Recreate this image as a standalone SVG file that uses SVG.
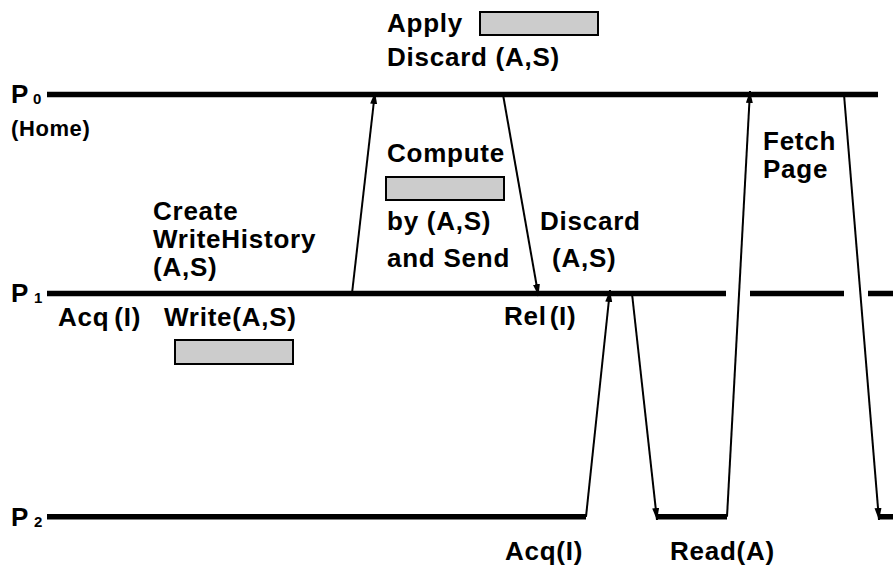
<svg xmlns="http://www.w3.org/2000/svg" width="893" height="567" viewBox="0 0 893 567">
  <style>
    .lbl { font-family: "Liberation Sans", Arial, Helvetica, sans-serif; font-weight: bold; font-size: 26px; letter-spacing: 0.75px; fill: #000; }
    .sub { font-family: "Liberation Sans", Arial, Helvetica, sans-serif; font-weight: bold; font-size: 15px; fill: #000; }
    .home { font-family: "Liberation Sans", Arial, Helvetica, sans-serif; font-weight: bold; font-size: 22px; letter-spacing: 0.6px; fill: #000; }
    .timeline { stroke: #000; stroke-width: 5.5; fill: none; }
    .msg { stroke: #000; stroke-width: 2; fill: none; marker-end: url(#head); }
    .work { fill: #cccccc; stroke: #000; stroke-width: 2; }
  </style>
  <defs>
    <marker id="head" markerUnits="userSpaceOnUse" markerWidth="13" markerHeight="8" refX="12" refY="3.5" orient="auto">
      <path d="M0,0 L12,3.5 L0,7 Z" fill="#000"/>
    </marker>
  </defs>
  <rect width="893" height="567" fill="#fff"/>

  <!-- process P0 (home node) -->
  <g id="p0">
    <line class="timeline" x1="47" y1="94.5" x2="878" y2="94.5"/>
    <text class="lbl" x="11" y="103">P</text>
    <text class="sub" x="33" y="104">0</text>
    <text class="home" x="11" y="136">(Home)</text>
  </g>

  <!-- process P1 -->
  <g id="p1">
    <path class="timeline" d="M47,293.5 H726 M750,293.5 H844 M868,293.5 H893"/>
    <text class="lbl" x="11" y="302">P</text>
    <text class="sub" x="34" y="303">1</text>
  </g>

  <!-- process P2 -->
  <g id="p2">
    <path class="timeline" d="M47,516.8 H586 M657,516.8 H727 M878,516.8 H893"/>
    <text class="lbl" x="11" y="525.5">P</text>
    <text class="sub" x="34" y="526.5">2</text>
  </g>

  <!-- P1 events -->
  <g id="create-history">
    <text class="lbl" x="153" y="220">Create</text>
    <text class="lbl" x="153" y="248">WriteHistory</text>
    <text class="lbl" x="153" y="276">(A,S)</text>
  </g>
  <g id="acq-p1">
    <text class="lbl" x="58" y="326" word-spacing="-3">Acq (I)</text>
  </g>
  <g id="write">
    <text class="lbl" x="164" y="326">Write(A,S)</text>
    <rect class="work" x="175" y="340" width="118" height="24"/>
  </g>
  <g id="compute">
    <text class="lbl" x="387" y="161.5">Compute</text>
    <rect class="work" x="386" y="177" width="118" height="23"/>
    <text class="lbl" x="387" y="230">by (A,S)</text>
    <text class="lbl" x="387" y="266.5">and Send</text>
  </g>
  <g id="discard-p1">
    <text class="lbl" x="540" y="230">Discard</text>
    <text class="lbl" x="552" y="266.5">(A,S)</text>
  </g>
  <g id="rel-p1">
    <text class="lbl" x="504" y="325" word-spacing="-5">Rel (I)</text>
  </g>

  <!-- P0 events -->
  <g id="apply">
    <text class="lbl" x="387" y="32">Apply</text>
    <rect class="work" x="480" y="12" width="118" height="23"/>
    <text class="lbl" x="387" y="65.5">Discard (A,S)</text>
  </g>
  <g id="fetch">
    <text class="lbl" x="763" y="149.5">Fetch</text>
    <text class="lbl" x="763" y="177.5">Page</text>
  </g>

  <!-- P2 events -->
  <g id="acq-p2">
    <text class="lbl" x="505" y="559.5">Acq(I)</text>
  </g>
  <g id="read">
    <text class="lbl" x="670" y="559.5">Read(A)</text>
  </g>

  <!-- messages between processes -->
  <g id="connectors">
    <line class="msg" x1="352" y1="293.5" x2="375" y2="92"/>
    <line class="msg" x1="503" y1="94.5" x2="538.5" y2="296"/>
    <line class="msg" x1="586" y1="516.8" x2="610" y2="290"/>
    <line class="msg" x1="632" y1="293.5" x2="657" y2="520"/>
    <line class="msg" x1="727" y1="516.8" x2="750" y2="91"/>
    <line class="msg" x1="844" y1="94.5" x2="879" y2="520"/>
  </g>
</svg>
